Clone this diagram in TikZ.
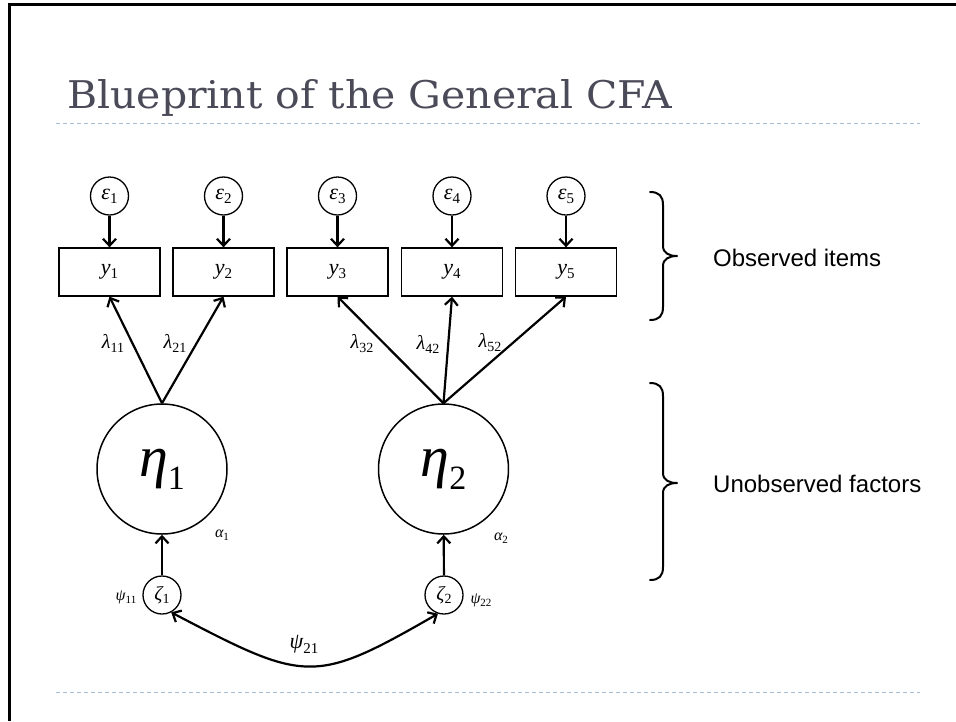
\documentclass[tikz,border=0pt]{standalone}
\usepackage{fontspec}
\usepackage{graphicx}
\setmainfont{Liberation Serif}
\newfontfamily\titlefont{DejaVu Serif}
\newfontfamily\notefont{Liberation Sans}
\usetikzlibrary{arrows.meta}
\definecolor{titlegray}{HTML}{4A4A58}
\definecolor{rulecolor}{HTML}{A6BFD8}
% italic symbol with an upright, lowered index:
% #1 symbol size, #2 index size, #3 symbol, #4 index, #5 drop (pt)
\newcommand{\varsub}[5]{{\fontsize{#1pt}{#1pt}\selectfont\itshape #3}\raisebox{-#5pt}{\fontsize{#2pt}{#2pt}\selectfont #4}}
\begin{document}
\begin{tikzpicture}[x=1pt,y=1pt,
  obsbox/.style={draw, line width=1.3pt, minimum width=101pt, minimum height=48pt, inner sep=0pt},
  errc/.style={draw, circle, line width=1.3pt, minimum size=38pt, inner sep=0pt},
  factorc/.style={draw, circle, line width=1.5pt, minimum size=130pt, inner sep=0pt},
  barb/.tip={Straight Barb[length=7pt,width=13pt,line width=2.2pt]},
  arrowline/.style={line width=2.2pt, -barb},
  bothline/.style={line width=2.2pt, barb-barb},
  rule/.style={rulecolor, line width=1pt, dash pattern=on 4pt off 3pt},
  brace/.style={line width=2pt, line cap=round, line join=round},
  note/.style={font=\notefont\fontsize{24pt}{24pt}\selectfont, anchor=west, inner sep=0pt}
]
\useasboundingbox (0,0) rectangle (956,-721);

% slide frame
\draw[line width=2.4pt] (9.5,-721) -- (9.5,-4.5) -- (956,-4.5);

% title and rules
\node[anchor=base west, inner sep=0pt, text=titlegray] (title) at (67,-108)
  {\resizebox{605pt}{29pt}{\titlefont Blueprint of the General CFA}};
\draw[rule] (56,-123) -- (920,-123);
\draw[rule] (56,-692) -- (920,-692);

% observed items
\foreach \i/\x in {1/109.5, 2/223.5, 3/337.5, 4/452, 5/566} {
  \node[obsbox] (y\i) at (\x,-272) {\varsub{22}{15}{y}{\i}{4}};
  \node[errc] (e\i) at (\x,-196) {\varsub{22}{15}{ε}{\i}{4}};
  \draw[arrowline] (e\i) -- (y\i);
}

% factors
\node[factorc] (eta1) at (162,-469) {\varsub{58}{34}{η}{1}{13}};
\node[factorc] (eta2) at (443.5,-469) {\varsub{58}{34}{η}{2}{13}};

% loadings
\draw[arrowline] (eta1.north) -- (y1.south);
\draw[arrowline] (eta1.north) -- (y2.south);
\draw[arrowline] (eta2.north) -- (y3.south);
\draw[arrowline] (eta2.north) -- (y4.south);
\draw[arrowline] (eta2.north) -- (y5.south);
\node (l11) at (113,-343) {\varsub{20}{14}{λ}{11}{4}};
\node (l21) at (175,-343) {\varsub{20}{14}{λ}{21}{4}};
\node (l32) at (362,-344) {\varsub{20}{14}{λ}{32}{4}};
\node (l42) at (428,-344) {\varsub{20}{14}{λ}{42}{4}};
\node (l52) at (490,-343) {\varsub{20}{14}{λ}{52}{4}};

% intercepts
\node (a1) at (222,-535) {\varsub{16}{11}{α}{1}{3}};
\node (a2) at (501,-538) {\varsub{16}{11}{α}{2}{3}};

% disturbances
\node[errc] (z1) at (162,-595) {\varsub{20}{14}{ζ}{1}{3}};
\node[errc] (z2) at (444,-595) {\varsub{20}{14}{ζ}{2}{3}};
\draw[arrowline] (z1) -- (eta1);
\draw[arrowline] (z2) -- (eta2);
\node (p11) at (126,-597) {\varsub{16}{11}{ψ}{11}{3}};
\node (p22) at (481,-600) {\varsub{16}{11}{ψ}{22}{3}};

% factor covariance
\draw[bothline] (z1.-62) .. controls (306,-683) and (314,-685) .. (z2.-108);
\node (p21) at (304,-644) {\varsub{22}{15}{ψ}{21}{5}};

% braces
\draw[brace] (650,-192) .. controls (659,-192) and (663,-196) .. (663,-205)
  -- (663,-246) .. controls (663,-253) and (669,-256) .. (677,-256)
  .. controls (669,-256) and (663,-259) .. (663,-266)
  -- (663,-307) .. controls (663,-316) and (659,-320) .. (650,-320);
\draw[brace] (650,-383) .. controls (659,-383) and (663,-387) .. (663,-396)
  -- (663,-473) .. controls (663,-480) and (669,-483) .. (677,-483)
  .. controls (669,-483) and (663,-486) .. (663,-493)
  -- (663,-567) .. controls (663,-576) and (659,-580) .. (650,-580);
\node[note] (obs) at (713,-258) {Observed items};
\node[note] (unobs) at (713,-484) {Unobserved factors};
\end{tikzpicture}
\end{document}
